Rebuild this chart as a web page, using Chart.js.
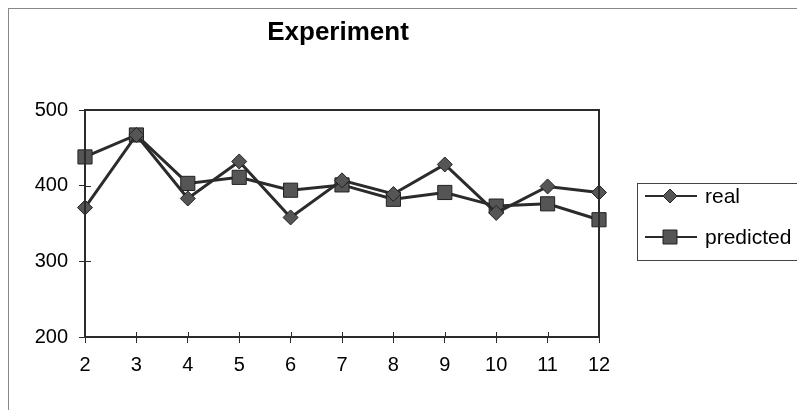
<!DOCTYPE html>
<html>
<head>
<meta charset="utf-8">
<script src="https://cdn.jsdelivr.net/npm/chart.js@4/dist/chart.umd.min.js"></script>
<style>
  html, body { margin: 0; padding: 0; background: #fff; }
  #wrap { width: 797px; height: 410px; }
</style>
</head>
<body>
<div id="wrap"><canvas id="myChart" width="797" height="410"></canvas></div>
<script>
var titleText = "Experiment";
var labels = ["2", "3", "4", "5", "6", "7", "8", "9", "10", "11", "12"];
var realValues = [371, 467, 383, 432, 358, 407, 389, 428, 364, 399, 391];
var predictedValues = [438, 467, 403, 411, 394, 401, 382, 391, 373, 376, 355];
var yTicks = [200, 300, 400, 500];

var font = "'Liberation Sans', Arial, sans-serif";
var ink = '#2b2b2b';

// title, plot frame, inner tick halves, legend box, outer border
var extras = {
  id: 'extras',
  afterDraw: function(chart) {
    var ctx = chart.ctx;
    var a = chart.chartArea;
    ctx.save();

    ctx.strokeStyle = '#888';
    ctx.lineWidth = 1;
    ctx.strokeRect(8.5, 8.5, 800, 420);

    ctx.strokeStyle = ink;
    ctx.lineWidth = 2;
    ctx.strokeRect(a.left, a.top, a.right - a.left, a.bottom - a.top);

    ctx.lineWidth = 1;
    var ys = chart.scales.y;
    ys.ticks.forEach(function(t, i) {
      var py = Math.round(ys.getPixelForTick(i)) + 0.5;
      ctx.beginPath(); ctx.moveTo(a.left, py); ctx.lineTo(a.left + 6, py); ctx.stroke();
    });
    var xs = chart.scales.x;
    xs.ticks.forEach(function(t, i) {
      var px = Math.round(xs.getPixelForTick(i)) + 0.5;
      ctx.beginPath(); ctx.moveTo(px, a.bottom); ctx.lineTo(px, a.bottom - 5); ctx.stroke();
    });

    ctx.fillStyle = '#000';
    ctx.font = 'bold 26px ' + font;
    ctx.textAlign = 'center';
    ctx.textBaseline = 'middle';
    ctx.fillText(titleText, (a.left + a.right) / 2 - 4, 33);

    ctx.strokeStyle = '#444';
    ctx.lineWidth = 1;
    ctx.strokeRect(637.5, 183.5, 200, 77);
    ctx.font = '21px ' + font;
    ctx.textAlign = 'left';
    var rows = [196, 237];
    chart.data.datasets.forEach(function(ds, i) {
      var y = rows[i];
      ctx.strokeStyle = ds.borderColor;
      ctx.lineWidth = 2;
      ctx.beginPath(); ctx.moveTo(645, y); ctx.lineTo(697, y); ctx.stroke();
      ctx.fillStyle = ds.pointBackgroundColor;
      ctx.strokeStyle = ds.pointBorderColor;
      ctx.lineWidth = 1;
      ctx.beginPath();
      if (ds.pointStyle === 'rectRot') {
        ctx.moveTo(670, y - 7); ctx.lineTo(677, y); ctx.lineTo(670, y + 7); ctx.lineTo(663, y);
      } else {
        ctx.rect(663, y - 7, 14, 14);
      }
      ctx.closePath(); ctx.fill(); ctx.stroke();
      ctx.fillStyle = '#000';
      ctx.fillText(ds.label, 705, y + 1);
    });
    ctx.restore();
  }
};

const ctx = document.getElementById('myChart').getContext('2d');
const myChart = new Chart(ctx, {
  type: 'line',
  data: {
    labels: labels,
    datasets: [{
      label: 'real',
      data: realValues,
      borderColor: ink,
      borderWidth: 3,
      pointStyle: 'rectRot',
      pointRadius: 7.5,
      pointBackgroundColor: '#555',
      pointBorderColor: '#222',
      pointBorderWidth: 1,
      tension: 0
    }, {
      label: 'predicted',
      data: predictedValues,
      borderColor: ink,
      borderWidth: 3,
      pointStyle: 'rect',
      pointRadius: 10,
      pointBackgroundColor: '#555',
      pointBorderColor: '#222',
      pointBorderWidth: 1,
      tension: 0
    }]
  },
  options: {
    responsive: false,
    animation: false,
    layout: { padding: { top: 110, left: 10, right: 198, bottom: 33 } },
    plugins: {
      legend: { display: false },
      title: { display: false },
      tooltip: { enabled: false }
    },
    scales: {
      x: {
        offset: false,
        afterFit: function(s) { s.height = 40; },
        grid: { drawOnChartArea: false, drawTicks: true, tickLength: 6, color: ink },
        border: { display: true, color: ink, width: 2 },
        ticks: { color: '#000', font: { family: font, size: 20 }, padding: 10, maxRotation: 0 }
      },
      y: {
        min: 200,
        max: 500,
        afterFit: function(s) { s.width = 75; },
        afterBuildTicks: function(s) { s.ticks = yTicks.map(function(v) { return { value: v }; }); },
        grid: { drawOnChartArea: false, drawTicks: true, tickLength: 6, color: ink },
        border: { display: true, color: ink, width: 2 },
        ticks: { color: '#000', font: { family: font, size: 20 }, padding: 11 }
      }
    }
  },
  plugins: [extras]
});
</script>
</body>
</html>
